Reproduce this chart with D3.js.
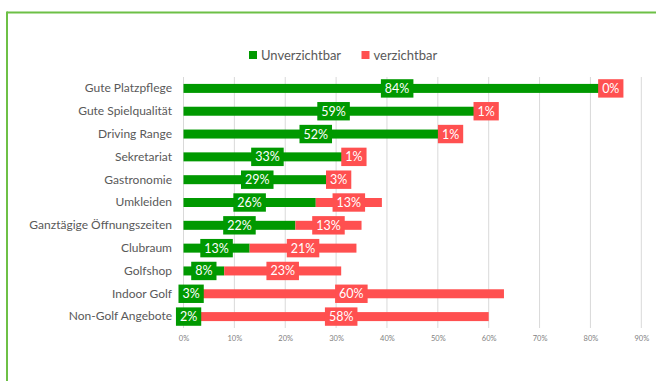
<!DOCTYPE html>
<html>
<head>
<meta charset="utf-8">
<script src="https://cdn.jsdelivr.net/npm/d3@7/dist/d3.min.js"></script>
<style>
  html, body { margin: 0; padding: 0; background: #fff; }
  svg { display: block; }
  text { font-family: Lato, "Open Sans", sans-serif; }
</style>
</head>
<body>
<svg id="chart" width="656" height="381"></svg>
<script>
// Survey items and shares (percent) of "unverzichtbar" / "verzichtbar" answers
const categories = [
  "Gute Platzpflege", "Gute Spielqualität", "Driving Range", "Sekretariat",
  "Gastronomie", "Umkleiden", "Ganztägige Öffnungszeiten", "Clubraum",
  "Golfshop", "Indoor Golf", "Non-Golf Angebote"
];
const unverzichtbar = [84, 59, 52, 33, 29, 26, 22, 13, 8, 3, 2];
const verzichtbar   = [0, 1, 1, 1, 3, 13, 13, 21, 23, 60, 58];
const seriesNames = ["Unverzichtbar", "verzichtbar"];
const tickValues = [0, 10, 20, 30, 40, 50, 60, 70, 80, 90];

const colors = { green: "#009900", red: "#FF5050" };

const svg = d3.select("#chart");

// frame lines (top and left)
svg.append("line").attr("x1", 7).attr("x2", 656).attr("y1", 12.5).attr("y2", 12.5)
  .attr("stroke", "#6DC046").attr("stroke-width", 2);
svg.append("line").attr("x1", 7).attr("x2", 7).attr("y1", 11.5).attr("y2", 381)
  .attr("stroke", "#6DC046").attr("stroke-width", 2);

const x = d3.scaleLinear().domain([0, 90]).range([183.5, 641.3]);
const y = d3.scaleBand().domain(categories).range([77, 328]).paddingInner(0.6).paddingOuter(0.3);

// vertical gridlines
svg.append("g").selectAll("line").data(tickValues).join("line")
  .attr("x1", d => x(d)).attr("x2", d => x(d))
  .attr("y1", 77).attr("y2", 328)
  .attr("stroke", "#D9D9D9").attr("stroke-width", 1);

// bottom axis labels
const xAxis = d3.axisBottom(x).tickValues(tickValues).tickFormat(d => d + "%").tickSize(0);
const gx = svg.append("g").attr("transform", "translate(0,333)").call(xAxis);
gx.select(".domain").remove();
gx.selectAll("text").attr("fill", "#7F7F7F").attr("font-size", 7.5)
  .attr("font-family", "Lato, 'Open Sans', sans-serif");

// category axis
const yAxis = d3.axisLeft(y).tickSize(0).tickPadding(0);
const gy = svg.append("g").attr("transform", "translate(172,0)").call(yAxis);
gy.select(".domain").remove();
gy.selectAll("text").attr("fill", "#595959").attr("font-size", 12)
  .attr("font-family", "Lato, 'Open Sans', sans-serif");

// stacked bars
const rows = categories.map((c, i) => ({ cat: c, a: unverzichtbar[i], b: verzichtbar[i] }));
const barH = 9;
const bandC = d => y(d.cat) + y.bandwidth() / 2;

svg.append("g").selectAll("rect").data(rows).join("rect")
  .attr("x", d => x(0)).attr("y", d => bandC(d) - barH / 2)
  .attr("width", d => x(d.a) - x(0)).attr("height", barH)
  .attr("fill", colors.green);

svg.append("g").selectAll("rect").data(rows).join("rect")
  .attr("x", d => x(d.a)).attr("y", d => bandC(d) - barH / 2)
  .attr("width", d => x(d.a + d.b) - x(d.a)).attr("height", barH)
  .attr("fill", colors.red);

// value labels in filled boxes
function drawLabels(accCenter, accVal, fill) {
  const g = svg.append("g");
  rows.forEach(d => {
    const cx = accCenter(d);
    const cy = bandC(d);
    const lg = g.append("g");
    const t = lg.append("text").attr("x", cx).attr("y", cy)
      .attr("text-anchor", "middle").attr("dominant-baseline", "central")
      .attr("fill", "#fff").attr("font-size", 12.5)
      .text(accVal(d) + "%");
    const bb = t.node().getBBox();
    lg.insert("rect", "text")
      .attr("x", cx - bb.width / 2 - 4).attr("y", cy - 9.2)
      .attr("width", bb.width + 8).attr("height", 18.4)
      .attr("fill", fill);
  });
}
drawLabels(d => x(d.a / 2), d => d.a, colors.green);
drawLabels(d => x(d.a + d.b / 2), d => d.b, colors.red);

// legend
const legend = svg.append("g").attr("transform", "translate(249,55)");
const items = [{ name: seriesNames[0], c: colors.green, x: 0 }, { name: seriesNames[1], c: colors.red, x: 112.5 }];
items.forEach(it => {
  legend.append("rect").attr("x", it.x).attr("y", -4).attr("width", 8).attr("height", 8).attr("fill", it.c);
  legend.append("text").attr("x", it.x + 12).attr("y", 0).attr("dominant-baseline", "central")
    .attr("fill", "#595959").attr("font-size", 13).text(it.name);
});
</script>
</body>
</html>
